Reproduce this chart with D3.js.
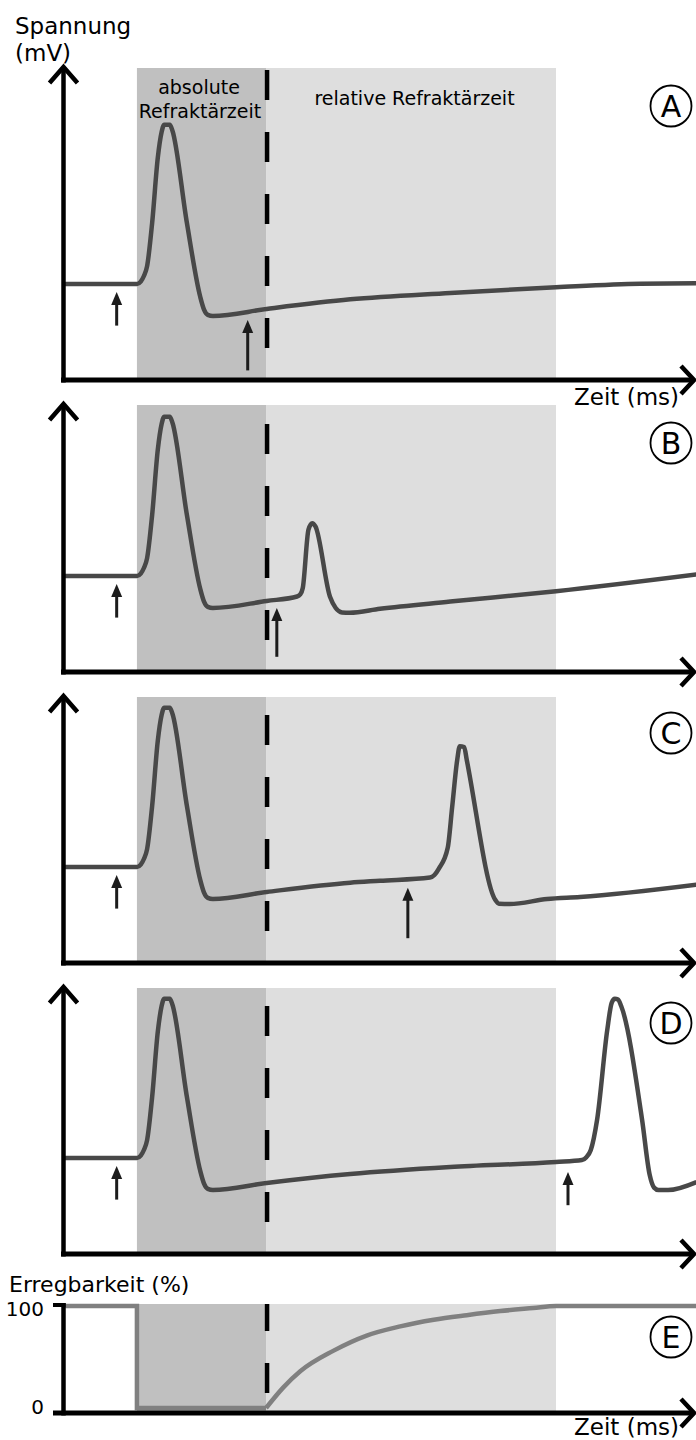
<!DOCTYPE html>
<html>
<head>
<meta charset="utf-8">
<script src="https://cdn.jsdelivr.net/npm/d3@7"></script>
<style>
  html, body { margin: 0; padding: 0; background: #fff; }
  svg { display: block; font-family: "DejaVu Sans", sans-serif; }
</style>
</head>
<body>
<svg id="chart" width="696" height="1440"></svg>
<script>
// ---- data -------------------------------------------------------------
// time axis (ms) and refractory periods
const timeDomain = [0, 10];
const absoluteRefractory = [1.16, 3.2];
const relativeRefractory = [3.2, 7.78];

// membrane potential (mV): foot of the axis .. spike peak
const voltageDomain = [-130, 30];

// first action potential, identical in all four traces  [ms, mV]
const firstSpike = [
  [0, -70], [1.16, -70], [1.22, -68.5], [1.27, -65], [1.32, -59], [1.40, -32],
  [1.49, 9], [1.55, 25], [1.59, 29.5], [1.68, 29.5], [1.72, 26], [1.95, -32],
  [2.16, -78], [2.22, -86], [2.28, -89.3], [2.36, -90], [3.21, -85.6]
];

// A: no second response
const traceA = firstSpike.concat([
  [4.53, -79.6], [6.11, -75.6], [7.78, -72], [9.11, -69.8], [10, -69.5]
]);
// B: small response early in the relative refractory period
const traceB = firstSpike.concat([
  [3.69, -82.8], [3.74, -81.5], [3.78, -77.5], [3.87, -41], [3.93, -37],
  [3.98, -39], [4.21, -83], [4.30, -90], [4.40, -92.8], [4.52, -93],
  [5.00, -90.5], [6.11, -86], [7.78, -79.5], [10, -69]
]);
// C: larger response later in the relative refractory period
const traceC = firstSpike.concat([
  [4.53, -79.8], [5.00, -78.6], [5.79, -76.6], [5.86, -75], [5.93, -71],
  [6.07, -58], [6.14, -32.5], [6.22, -3], [6.26, 5.5], [6.33, 5],
  [6.37, -3], [6.82, -90.5], [6.88, -93], [7.05, -93.2], [7.64, -90],
  [8.16, -88.75], [10, -81]
]);
// D: full action potential after the refractory period
const traceD = firstSpike.concat([
  [4.53, -80], [6.11, -75.6], [7.78, -72.5], [8.19, -71.3], [8.26, -69.5],
  [8.33, -65], [8.43, -46], [8.59, 10], [8.66, 27], [8.71, 29.5],
  [8.76, 29], [8.81, 25], [9.14, -46], [9.26, -80.5], [9.33, -88.5],
  [9.40, -90], [9.55, -90], [10, -85]
]);

// stimuli: [ms, arrow tip mV, arrow tail mV]
const stimuliA = [[0.84, -75, -96], [2.91, -92.5, -124]];
const stimuliB = [[0.84, -75, -96], [3.37, -90, -120.5]];
const stimuliC = [[0.84, -75, -96], [5.44, -83, -114.5]];
const stimuliD = [[0.84, -75, -96], [7.97, -78.75, -99.5]];

// excitability (%) over time
const excitabilityStep = [[0, 100], [1.16, 100], [1.16, 0], [3.2, 0]];
const excitabilityRecovery = [
  [3.2, 0], [3.47, 20], [3.74, 36], [4.26, 56], [4.79, 71], [5.32, 80],
  [5.85, 86.5], [6.37, 91], [6.90, 95], [7.42, 98], [7.78, 100], [10, 100]
];
const excitabilityTicks = [0, 100];

const panelLetters = ["A", "B", "C", "D", "E"];
const traces = [traceA, traceB, traceC, traceD];
const stimuli = [stimuliA, stimuliB, stimuliC, stimuliD];

// ---- layout -----------------------------------------------------------
const W = 696;
const axisX = 63.5;
const panelLayout = [
  { top: 68,  base: 380,  circle: 106 },
  { top: 405, base: 672,  circle: 443 },
  { top: 697, base: 963,  circle: 733 },
  { top: 988, base: 1254, circle: 1023 }
];
const eLayout = { top: 1304, base: 1413, zero: 1408, full: 1306, circle: 1337 };

const colors = {
  dark: "#c0c0c0",
  light: "#dedede",
  trace: "#484848",
  excit: "#808080",
  ink: "#000",
  arrow: "#1c1c1c"
};

const svg = d3.select("#chart");
const x = d3.scaleLinear().domain(timeDomain).range([axisX, W + 0.5]);

function chevronUp(g, cx, tip) {
  g.append("path")
    .attr("d", `M${cx - 14},${tip + 16}L${cx},${tip}L${cx + 14},${tip + 16}`)
    .attr("fill", "none").attr("stroke", colors.ink).attr("stroke-width", 4.5);
}
function chevronRight(g, tipX, cy) {
  g.append("path")
    .attr("d", `M${tipX - 13},${cy - 14}L${tipX},${cy}L${tipX - 13},${cy + 14}`)
    .attr("fill", "none").attr("stroke", colors.ink).attr("stroke-width", 4.5);
}
function shading(g, top, base) {
  g.append("rect")
    .attr("x", x(absoluteRefractory[0])).attr("y", top)
    .attr("width", x(absoluteRefractory[1]) - x(absoluteRefractory[0]))
    .attr("height", base - top).attr("fill", colors.dark);
  g.append("rect")
    .attr("x", x(relativeRefractory[0])).attr("y", top)
    .attr("width", x(relativeRefractory[1]) - x(relativeRefractory[0]))
    .attr("height", base - top).attr("fill", colors.light);
}
function dashedBoundary(g, top, base, offset) {
  g.append("line")
    .attr("x1", x(absoluteRefractory[1]) + 1).attr("x2", x(absoluteRefractory[1]) + 1)
    .attr("y1", base).attr("y2", top)
    .attr("stroke", colors.ink).attr("stroke-width", 4.5)
    .attr("stroke-dasharray", "30 32").attr("stroke-dashoffset", offset);
}
function circleLabel(g, cy, letter) {
  g.append("circle").attr("cx", 671).attr("cy", cy).attr("r", 20.5)
    .attr("fill", "none").attr("stroke", colors.ink).attr("stroke-width", 1.8);
  g.append("text").attr("x", 671).attr("y", cy + 11)
    .attr("text-anchor", "middle").attr("font-size", 30).attr("fill", colors.ink)
    .text(letter);
}

// ---- membrane potential panels A-D ------------------------------------
panelLayout.forEach((p, i) => {
  const g = svg.append("g");
  const y = d3.scaleLinear().domain(voltageDomain).range([p.base, p.base - 256]);

  shading(g, p.top, p.base);
  dashedBoundary(g, p.top, p.base, 30);

  const line = d3.line().x(d => x(d[0])).y(d => y(d[1])).curve(d3.curveMonotoneX);
  g.append("path").datum(traces[i]).attr("d", line)
    .attr("fill", "none").attr("stroke", colors.trace)
    .attr("stroke-width", 4.5).attr("stroke-linejoin", "round");

  // stimulus arrows
  stimuli[i].forEach(s => {
    const sx = x(s[0]), tip = y(s[1]), tail = y(s[2]);
    g.append("line").attr("x1", sx).attr("x2", sx).attr("y1", tail).attr("y2", tip + 10)
      .attr("stroke", colors.arrow).attr("stroke-width", 3);
    g.append("path").attr("d", `M${sx},${tip}L${sx - 5.5},${tip + 13}L${sx + 5.5},${tip + 13}Z`)
      .attr("fill", colors.arrow);
  });

  // axes
  g.append("line").attr("x1", axisX).attr("x2", axisX).attr("y1", p.base + 2.5).attr("y2", p.top - 1)
    .attr("stroke", colors.ink).attr("stroke-width", 4.5);
  chevronUp(g, axisX, p.top - 1);
  g.append("line").attr("x1", axisX - 2.5).attr("x2", W - 3).attr("y1", p.base).attr("y2", p.base)
    .attr("stroke", colors.ink).attr("stroke-width", 5);
  chevronRight(g, W - 2, p.base);

  circleLabel(g, p.circle, panelLetters[i]);
});

// labels of the first panel
svg.append("text").attr("x", 15).attr("y", 34).attr("font-size", 23).text("Spannung");
svg.append("text").attr("x", 15).attr("y", 61).attr("font-size", 23).text("(mV)");
svg.append("text").attr("x", 199).attr("y", 94).attr("font-size", 19)
  .attr("text-anchor", "middle").text("absolute");
svg.append("text").attr("x", 200).attr("y", 118).attr("font-size", 19)
  .attr("text-anchor", "middle").text("Refraktärzeit");
svg.append("text").attr("x", 414.5).attr("y", 105).attr("font-size", 19)
  .attr("text-anchor", "middle").text("relative Refraktärzeit");
svg.append("text").attr("x", 679).attr("y", 405).attr("font-size", 23)
  .attr("text-anchor", "end").text("Zeit (ms)");

// ---- excitability panel E ---------------------------------------------
(function () {
  const g = svg.append("g");
  const yE = d3.scaleLinear().domain([0, 100]).range([eLayout.zero, eLayout.full]);

  shading(g, eLayout.top, eLayout.base);
  dashedBoundary(g, eLayout.top, eLayout.base, 42);

  const stepLine = d3.line().x(d => x(d[0])).y(d => yE(d[1]));
  g.append("path").datum(excitabilityStep).attr("d", stepLine)
    .attr("fill", "none").attr("stroke", colors.excit).attr("stroke-width", 4.5)
    .attr("stroke-linejoin", "miter");
  const recLine = d3.line().x(d => x(d[0])).y(d => yE(d[1])).curve(d3.curveMonotoneX);
  g.append("path").datum(excitabilityRecovery).attr("d", recLine)
    .attr("fill", "none").attr("stroke", colors.excit).attr("stroke-width", 4.5);

  // axes
  g.append("line").attr("x1", axisX).attr("x2", axisX)
    .attr("y1", eLayout.base + 2.5).attr("y2", yE(100) - 3)
    .attr("stroke", colors.ink).attr("stroke-width", 4.5);
  g.append("line").attr("x1", 53).attr("x2", axisX + 2).attr("y1", yE(100) - 1).attr("y2", yE(100) - 1)
    .attr("stroke", colors.ink).attr("stroke-width", 4);
  g.append("line").attr("x1", 53).attr("x2", W - 3).attr("y1", eLayout.base).attr("y2", eLayout.base)
    .attr("stroke", colors.ink).attr("stroke-width", 5);
  chevronRight(g, W - 2, eLayout.base);

  excitabilityTicks.forEach(t => {
    g.append("text").attr("x", 44)
      .attr("y", t === 0 ? eLayout.base + 1 : yE(t) + 10)
      .attr("text-anchor", "end").attr("font-size", 20).text(t);
  });

  g.append("text").attr("x", 9).attr("y", 1292).attr("font-size", 22).text("Erregbarkeit (%)");
  g.append("text").attr("x", 679).attr("y", 1435).attr("font-size", 23)
    .attr("text-anchor", "end").text("Zeit (ms)");

  circleLabel(g, eLayout.circle, panelLetters[4]);
})();
</script>
</body>
</html>
